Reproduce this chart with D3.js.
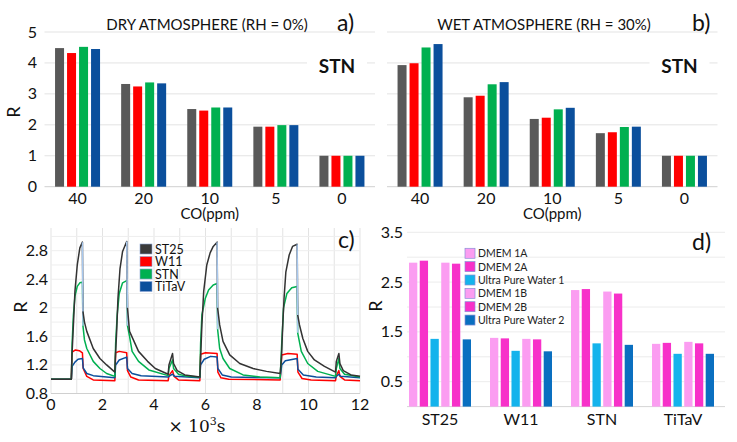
<!DOCTYPE html>
<html><head><meta charset="utf-8">
<script src="https://cdn.jsdelivr.net/npm/d3@7"></script>
<style>
body{margin:0;background:#fff;}
svg{display:block;font-family:Lato,"Open Sans",sans-serif;}
</style></head>
<body><svg id="c" width="737" height="442"></svg>
<script>
// ---------- DATA ----------
const coLabels = ["40","20","10","5","0"];
const sensorNames = ["ST25","W11","STN","TiTaV"];
const sensorColors = ["#595959","#ff0000","#00b050","#0b4f9c"];
// panel a: dry atmosphere (rows = CO level, cols = sensors)
const dryR = [
  [4.48,4.32,4.52,4.45],
  [3.32,3.24,3.37,3.34],
  [2.51,2.46,2.56,2.56],
  [1.94,1.94,1.99,1.99],
  [1.00,1.00,1.00,1.00]
];
// panel b: wet atmosphere
const wetR = [
  [3.93,3.99,4.50,4.61],
  [2.89,2.94,3.31,3.38],
  [2.19,2.23,2.50,2.55],
  [1.73,1.76,1.93,1.94],
  [1.00,1.00,1.00,1.00]
];
const abTicks = [0,1,2,3,4,5];

// panel c: time responses [t (x10^3 s), R]
const respST25 = [[0,1.00],[0.79,1.00],[0.81,1.30],[0.87,1.76],[0.93,2.23],[1.02,2.60],[1.12,2.84],[1.22,2.92],[1.24,1.95],[1.30,1.80],[1.39,1.67],[1.64,1.43],[1.90,1.29],[2.16,1.20],[2.48,1.10],
 [2.50,1.30],[2.55,1.67],[2.60,2.13],[2.68,2.55],[2.78,2.79],[2.94,2.93],[2.97,2.00],[3.05,1.67],[3.40,1.39],[3.75,1.25],[4.05,1.15],[4.55,1.07],
 [4.58,1.20],[4.72,1.36],[4.76,1.22],[4.90,1.12],[5.20,1.06],[5.78,1.03],
 [5.80,1.20],[5.86,1.76],[5.93,2.23],[6.05,2.60],[6.18,2.77],[6.30,2.86],[6.45,2.92],[6.47,2.00],[6.55,1.76],[6.68,1.53],[6.94,1.34],[7.33,1.22],[7.85,1.15],[8.37,1.11],[8.90,1.08],
 [8.95,1.30],[9.00,1.76],[9.05,2.13],[9.12,2.50],[9.25,2.74],[9.38,2.86],[9.56,2.89],[9.58,1.90],[9.65,1.76],[9.78,1.57],[9.97,1.39],[10.23,1.27],[10.62,1.18],[11.05,1.10],
 [11.08,1.25],[11.18,1.36],[11.22,1.22],[11.35,1.12],[11.65,1.06],[12,1.04]];
const respW11 = [[0,1.00],[0.79,1.00],[0.82,1.38],[0.95,1.41],[1.10,1.40],[1.22,1.37],[1.25,1.15],[1.39,1.04],[1.64,0.99],[2.48,0.98],
 [2.51,1.37],[2.65,1.39],[2.94,1.37],[2.97,1.12],[3.10,1.03],[3.40,0.99],[4.55,0.98],
 [4.58,1.05],[4.72,1.12],[4.78,1.04],[4.95,0.99],[5.78,0.98],
 [5.81,1.35],[6.00,1.37],[6.45,1.36],[6.48,1.10],[6.60,1.02],[6.90,1.00],[8.90,0.99],
 [8.96,1.34],[9.20,1.36],[9.56,1.35],[9.59,1.10],[9.75,1.01],[10.10,0.99],[11.05,0.98],
 [11.08,1.05],[11.18,1.12],[11.22,1.04],[11.40,0.99],[12,0.98]];
const respSTN = [[0,1.00],[0.79,1.00],[0.82,1.50],[0.87,1.90],[0.93,2.16],[1.02,2.30],[1.12,2.35],[1.22,2.36],[1.24,1.75],[1.30,1.55],[1.39,1.43],[1.64,1.25],[1.90,1.15],[2.16,1.08],[2.48,1.04],
 [2.51,1.50],[2.57,1.90],[2.65,2.20],[2.78,2.35],[2.94,2.38],[2.97,1.75],[3.05,1.60],[3.15,1.39],[3.40,1.25],[3.80,1.13],[4.55,1.05],
 [4.58,1.15],[4.72,1.27],[4.76,1.15],[4.95,1.07],[5.30,1.04],[5.78,1.03],
 [5.81,1.50],[5.86,1.90],[5.99,2.13],[6.12,2.25],[6.30,2.32],[6.45,2.34],[6.47,1.70],[6.55,1.43],[6.68,1.29],[6.94,1.15],[7.46,1.06],[8.11,1.03],[8.90,1.02],
 [8.96,1.50],[9.03,2.00],[9.16,2.20],[9.35,2.28],[9.56,2.30],[9.58,1.65],[9.72,1.39],[9.97,1.22],[10.36,1.11],[11.05,1.04],
 [11.08,1.15],[11.18,1.29],[11.22,1.15],[11.40,1.07],[12,1.03]];
const respTiTaV = [[0,1.00],[0.79,1.00],[0.82,1.18],[0.93,1.24],[1.05,1.28],[1.22,1.29],[1.25,1.16],[1.39,1.08],[1.64,1.05],[2.16,1.03],[2.48,1.02],
 [2.51,1.20],[2.65,1.27],[2.94,1.31],[2.97,1.15],[3.15,1.08],[3.50,1.05],[4.55,1.03],
 [4.58,1.04],[4.72,1.07],[4.80,1.04],[5.78,1.02],
 [5.81,1.20],[5.95,1.28],[6.20,1.32],[6.45,1.31],[6.48,1.15],[6.65,1.06],[7.00,1.03],[8.90,1.02],
 [8.96,1.20],[9.10,1.26],[9.56,1.29],[9.59,1.14],[9.80,1.06],[10.30,1.03],[11.05,1.02],
 [11.08,1.04],[11.18,1.07],[11.25,1.04],[12,1.02]];
const cXTicks = [0,2,4,6,8,10,12];
const cYTicks = [0.8,1.2,1.6,2.0,2.4,2.8];
const cLineColors = ["#333333","#ff0000","#00b050","#0b4f9c"];

// panel d
const dCats = ["ST25","W11","STN","TiTaV"];
const dSeries = ["DMEM 1A","DMEM 2A","Ultra Pure Water 1","DMEM 1B","DMEM 2B","Ultra Pure Water 2"];
const dColors = ["#fb9df1","#f731c9","#14b3ec","#fb9df1","#f731c9","#0a6fc0"];
const dValues = [ // rows = categories, cols = series
  [2.89,2.93,1.36,2.89,2.87,1.35],
  [1.38,1.37,1.12,1.36,1.35,1.11],
  [2.34,2.36,1.27,2.31,2.27,1.24],
  [1.26,1.28,1.06,1.30,1.27,1.06]
];
const dTicks = [0.5,1.5,2.5,3.5];

// ---------- DRAW ----------
const svg = d3.select("#c");
svg.append("rect").attr("width",737).attr("height",442).attr("fill","#fff");
const grid = "#e3e3e3";

function barPanel(g, data, x0, x1, title, titleX, letter, letterX, showY){
  const x = d3.scaleBand().domain(coLabels).range([x0,x1]);
  const y = d3.scaleLinear().domain([0,5]).range([186.7,32]);
  const bw = 45;
  const xi = d3.scaleBand().domain(sensorNames).range([0,bw]).paddingInner(0.25);
  g.selectAll(".gl").data(abTicks).join("line")
    .attr("x1",x0).attr("x2",x1).attr("y1",d=>y(d)).attr("y2",d=>y(d))
    .attr("stroke",d=>d===0?"#d0d0d0":grid).attr("stroke-width",1);
  data.forEach((row,i)=>{
    const gx = x(coLabels[i]) + (x.bandwidth()-bw)/2;
    g.selectAll(null).data(row).join("rect")
      .attr("x",(d,j)=>gx+xi(sensorNames[j])).attr("width",xi.bandwidth())
      .attr("y",d=>y(d)).attr("height",d=>y(0)-y(d))
      .attr("fill",(d,j)=>sensorColors[j]);
  });
  g.selectAll(".xl").data(coLabels).join("text")
    .attr("x",d=>x(d)+x.bandwidth()/2).attr("y",204).attr("text-anchor","middle")
    .attr("font-size",16).attr("fill","#111").text(d=>d);
  g.append("text").attr("x",(x0+x1)/2 + 0).attr("y",219).attr("text-anchor","middle")
    .attr("font-size",15).attr("fill","#111").text("CO(ppm)");
  if(showY){
    g.selectAll(".yl").data(abTicks).join("text")
      .attr("x",37).attr("y",d=>y(d)+5.5).attr("text-anchor","end")
      .attr("font-size",16).attr("fill","#111").text(d=>d);
    g.append("text").attr("transform","translate(20,112) rotate(-90)")
      .attr("text-anchor","middle").attr("font-size",18).attr("fill","#111").text("R");
  }
  g.append("text").attr("x",titleX).attr("y",30).attr("text-anchor","middle")
    .attr("font-size",15).attr("fill","#111").text(title);
  g.append("text").attr("x",letterX).attr("y",31).attr("font-size",23).attr("fill","#111").text(letter);
  const sc = x1-38;
  g.append("rect").attr("x",sc-30).attr("y",52).attr("width",60).attr("height",26).attr("fill","#fff");
  g.append("text").attr("x",sc).attr("y",73).attr("text-anchor","middle")
    .attr("font-size",19).attr("font-weight","bold").attr("fill","#111").text("STN");
}
barPanel(svg.append("g"), dryR, 44.5, 375, "DRY ATMOSPHERE (RH = 0%)", 207, "a)", 337, true);
barPanel(svg.append("g"), wetR, 387, 717.5, "WET ATMOSPHERE (RH = 30%)", 544, "b)", 692, false);

// panel c
(function(){
  const g = svg.append("g");
  const x = d3.scaleLinear().domain([0,12]).range([51,360]);
  const y = d3.scaleLinear().domain([0.8,2.8]).range([393.5,250.7]);
  const top = 228;
  g.selectAll(".vg").data(d3.range(0,13,1)).join("line")
    .attr("x1",d=>x(d)).attr("x2",d=>x(d)).attr("y1",top).attr("y2",y(0.8))
    .attr("stroke",grid);
  g.selectAll(".hg").data(d3.range(0.8,3.05,0.2)).join("line")
    .attr("x1",x(0)).attr("x2",x(12)).attr("y1",d=>y(d)).attr("y2",d=>y(d))
    .attr("stroke",d=>Math.abs(d-0.8)<1e-6?"#d0d0d0":"#eeeeee");
  const series = [respST25,respW11,respSTN,respTiTaV];
  const line = d3.line().x(d=>x(d[0])).y(d=>y(d[1]));
  // draw order: W11, TiTaV, STN, ST25 (ST25 on top)
  [1,3,2,0].forEach(k=>{
    const s = series[k];
    g.append("path").attr("d",line(s)).attr("fill","none")
      .attr("stroke",cLineColors[k]).attr("stroke-width",1.5).attr("stroke-linejoin","round");
    // steep falling segments shown as thin light-blue connecting lines
    const steep = [];
    for(let i=1;i<s.length;i++){
      const dy = y(s[i][1])-y(s[i-1][1]);
      const dx = Math.abs(x(s[i][0])-x(s[i-1][0]));
      if(dy>25 && dy>6*dx) steep.push([s[i-1],s[i]]);
    }
    g.selectAll(null).data(steep).join("line")
      .attr("x1",d=>x(d[0][0])).attr("y1",d=>y(d[0][1]))
      .attr("x2",d=>x(d[1][0])).attr("y2",d=>y(d[1][1]))
      .attr("stroke","#a8c8ee").attr("stroke-width",1.4);
  });
  g.selectAll(".xt").data(cXTicks).join("text")
    .attr("x",d=>x(d)).attr("y",410).attr("text-anchor","middle")
    .attr("font-size",16).attr("fill","#111").text(d=>d);
  g.selectAll(".yt").data(cYTicks).join("text")
    .attr("x",48).attr("y",d=>y(d)+5.5).attr("text-anchor","end")
    .attr("font-size",16).attr("fill","#111").text(d=>d3.format(".1f")(d).replace(/\.0$/,""));
  const xl = g.append("text").attr("x",197).attr("y",432).attr("text-anchor","middle")
    .attr("font-size",17).attr("font-family","'DejaVu Serif','Liberation Serif',serif").attr("fill","#111");
  xl.append("tspan").text("× 10");
  xl.append("tspan").attr("dy",-7).attr("font-size",11).text("3");
  xl.append("tspan").attr("dy",7).text("s");
  g.append("text").attr("transform","translate(27,307) rotate(-90)")
    .attr("text-anchor","middle").attr("font-size",18).attr("fill","#111").text("R");
  g.append("text").attr("x",338).attr("y",248).attr("font-size",23).attr("fill","#111").text("c)");
  // legend
  const lg = g.append("g");
  sensorNames.forEach((n,i)=>{
    const yy = 249 + i*12.5;
    lg.append("rect").attr("x",140).attr("y",yy-5).attr("width",12).attr("height",10)
      .attr("fill",i===0?"#3a3a3a":sensorColors[i]).attr("stroke","#8fa8d8").attr("stroke-width",0.6);
    lg.append("text").attr("x",155).attr("y",yy+4.5).attr("font-size",12.5).attr("fill","#111").text(n);
  });
})();

// panel d
(function(){
  const g = svg.append("g");
  const x = d3.scaleBand().domain(dCats).range([399.5,723.5]);
  const y = d3.scaleLinear().domain([0,3.5]).range([406.6,232.3]);
  const gw = 62;
  const xi = d3.scaleBand().domain(dSeries).range([0,gw]).paddingInner(0.227);
  g.selectAll(".hg").data(d3.range(0,3.51,0.5)).join("line")
    .attr("x1",407).attr("x2",725).attr("y1",d=>y(d)).attr("y2",d=>y(d))
    .attr("stroke",d=>d===0?"#d6d6d6":"#ececec");
  dValues.forEach((row,i)=>{
    const gx = x(dCats[i]) + (x.bandwidth()-gw)/2;
    g.selectAll(null).data(row).join("rect")
      .attr("x",(d,j)=>gx+xi(dSeries[j])).attr("width",xi.bandwidth())
      .attr("y",d=>y(d)).attr("height",d=>y(0)-y(d))
      .attr("fill",(d,j)=>dColors[j]);
  });
  g.selectAll(".xt").data(dCats).join("text")
    .attr("x",d=>x(d)+x.bandwidth()/2).attr("y",425).attr("text-anchor","middle")
    .attr("font-size",16).attr("fill","#111").text(d=>d);
  g.selectAll(".yt").data(dTicks).join("text")
    .attr("x",403).attr("y",d=>y(d)+5.5).attr("text-anchor","end")
    .attr("font-size",16).attr("fill","#111").text(d=>d);
  g.append("text").attr("transform","translate(382,306) rotate(-90)")
    .attr("text-anchor","middle").attr("font-size",18).attr("fill","#111").text("R");
  g.append("text").attr("x",692).attr("y",250).attr("font-size",23).attr("fill","#111").text("d)");
  dSeries.forEach((n,i)=>{
    const yy = 253.3 + i*13.35;
    g.append("rect").attr("x",465).attr("y",yy-5).attr("width",10).attr("height",10)
      .attr("fill",dColors[i]).attr("stroke","#8b8fd8").attr("stroke-width",0.7);
    g.append("text").attr("x",478).attr("y",yy+4).attr("font-size",10.5).attr("fill","#222").text(n);
  });
})();
</script></body></html>
